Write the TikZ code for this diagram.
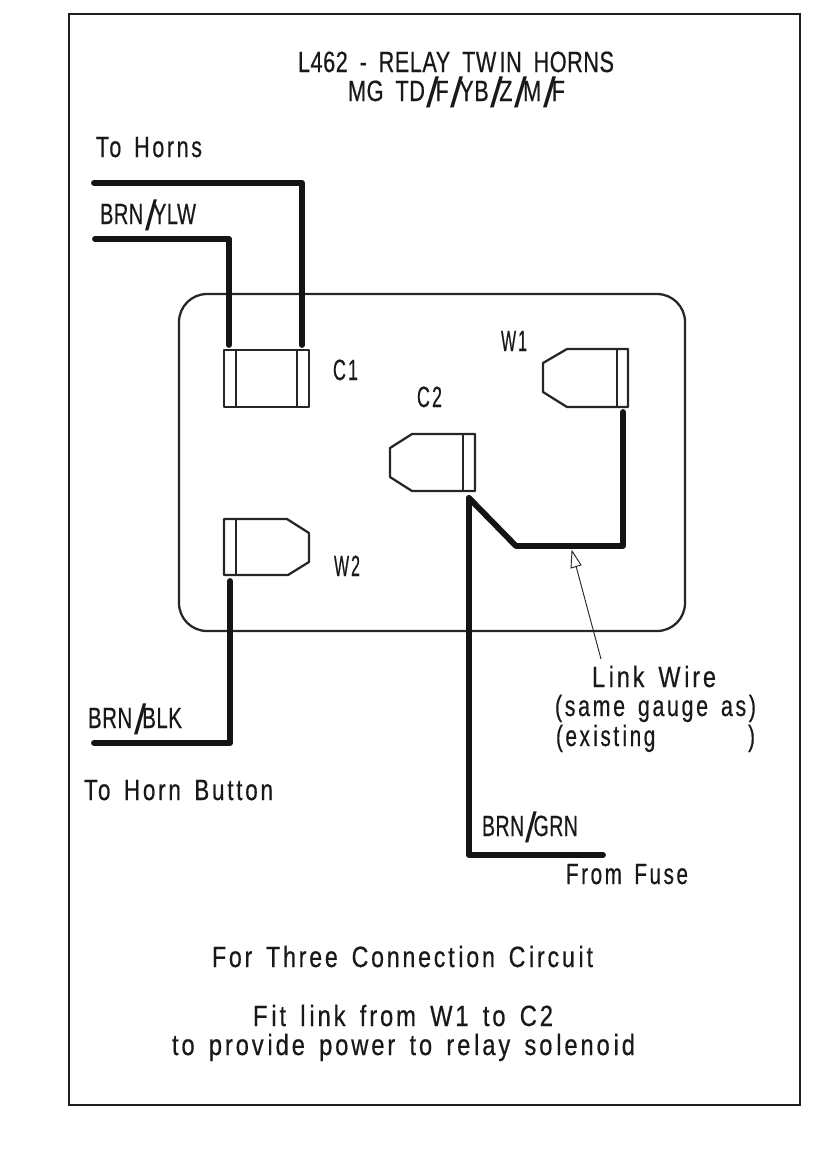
\documentclass[tikz,border=0pt]{standalone}
\usepackage{fontspec}
\usepackage{graphicx}
\setmainfont[FakeStretch=0.74,LetterSpace=9,WordSpace=1.5,FakeBold=0.5]{Liberation Sans}
\newfontfamily\tightf[FakeStretch=0.8,LetterSpace=2,WordSpace=1.8,FakeBold=0.5]{Liberation Sans}
\newfontfamily\slf{Liberation Sans}
\newlength{\pxu}\setlength{\pxu}{0.75pt}
% tall slash that overlaps its neighbours
\newcommand{\sll}{\kern1.5pt\raisebox{-5pt}{\smash{\resizebox{10.5pt}{23pt}{\slf\fontsize{32pt}{32pt}\selectfont/}}}\kern-3.5pt}
\newcommand{\gp}{\kern0.12em}
\newcommand{\fitw}[2]{\resizebox{#1\pxu}{\height}{#2}}
\tikzset{
  frameline/.style={draw=black!88,line width=2pt},
  body/.style={draw=black!85,line width=1.7pt,line join=round},
  wire/.style={draw=black!92,line width=4.4pt,line join=round,line cap=round},
  leader/.style={draw=black!85,line width=0.7pt},
  lbl/.style={anchor=base west,inner sep=0pt,outer sep=0pt,text=black!90,font=\fontsize{22pt}{22pt}\selectfont},
  lbt/.style={lbl,font=\tightf\fontsize{22pt}{22pt}\selectfont},
}
\begin{document}
\begin{tikzpicture}[x=0.75pt,y=-0.75pt]
\useasboundingbox (0,0) rectangle (839,1158);
\draw[frameline] (69,14) rectangle (800,1105);
\draw[body,rounded corners=21pt] (179,294) rectangle (685,631);

% terminals
\draw[body] (224,350) rectangle (309,407);
\draw[body] (236,350) -- (236,407) (297,350) -- (297,407);
\draw[body] (628,349) -- (567,349) -- (543,363) -- (543,392) -- (567,407) -- (628,407) -- cycle;
\draw[body] (617,349) -- (617,407);
\draw[body] (475,434) -- (412,434) -- (390,448) -- (390,477) -- (412,491) -- (475,491) -- cycle;
\draw[body] (463,434) -- (463,491);
\draw[body] (224,519) -- (287,519) -- (309,533) -- (309,562) -- (288,575) -- (224,575) -- cycle;
\draw[body] (236,519) -- (236,575);

% wire end points
\coordinate (hornA) at (94,183);
\coordinate (hornAc) at (302,183);
\coordinate (c1r) at (302,345);
\coordinate (hornB) at (95,239);
\coordinate (hornBc) at (229,239);
\coordinate (c1l) at (229,345);
\coordinate (w2t) at (230,581);
\coordinate (w2c) at (230,743);
\coordinate (btn) at (94,743);
\coordinate (c2t) at (469,498);
\coordinate (fusec) at (469,855);
\coordinate (fuse) at (603,855);
\coordinate (linka) at (516,546);
\coordinate (linkb) at (623,546);
\coordinate (w1t) at (623,412);
\coordinate (leadTip) at (572,551);
\coordinate (leadEnd) at (601,659);

\draw[wire] (hornA) -- (hornAc) -- (c1r);
\draw[wire] (hornB) -- (hornBc) -- (c1l);
\draw[wire] (w2t) -- (w2c) -- (btn);
\draw[wire] (c2t) -- (fusec) -- (fuse);
\draw[wire] (c2t) -- (linka) -- (linkb) -- (w1t);

% leader with hollow head
\draw[leader] (leadEnd) -- (576,566);
\draw[leader,fill=white] (leadTip) -- (571,568) -- (581,565) -- cycle;

% labels
\node[lbt] (t1) at (298,72) {\fitw{316}{L462 - RELAY TW\gp IN HORNS}};
\node[lbt] (t2) at (348,101) {\fitw{217}{MG TD\sll F\sll YB\sll Z\sll M\sll F}};
\node[lbl] (horns) at (96,157) {\fitw{106}{To Horns}};
\node[lbt] (byl) at (100,224) {\fitw{96}{BRN\sll YLW}};
\node[lbl] (c1) at (333,380) {\fitw{25}{C1}};
\node[lbl] (w1) at (501,351) {\fitw{26}{W1}};
\node[lbl] (c2) at (417,407) {\fitw{25}{C2}};
\node[lbl] (w2) at (334,576) {\fitw{26}{W2}};
\node[lbt] (bbk) at (88,728) {\fitw{94}{BRN\sll BLK}};
\node[lbl] (btnl) at (84,800) {\fitw{189}{To Horn Button}};
\node[lbl] (lw) at (592,687) {\fitw{124}{L\gp ink W\gp ire}};
\node[lbl] (sg) at (555,716) {\fitw{201}{(same gauge as)}};
\node[lbl] (ex) at (556,746) {\fitw{199}{(ex\gp ist\gp ing\hspace{3.3em})}};
\node[lbt] (bgr) at (482,836) {\fitw{96}{BRN\sll GRN}};
\node[lbl] (ff) at (566,884) {\fitw{122}{From Fuse}};
\node[lbl] (n1) at (212,967) {\fitw{381}{For Three Connect\gp ion C\gp ircu\gp it}};
\node[lbl] (n2) at (253,1026) {\fitw{300}{F\gp it l\gp ink from W1 to C2}};
\node[lbl] (n3) at (172,1055) {\fitw{463}{to prov\gp ide power to re\gp lay so\gp leno\gp id}};
\end{tikzpicture}
\end{document}
